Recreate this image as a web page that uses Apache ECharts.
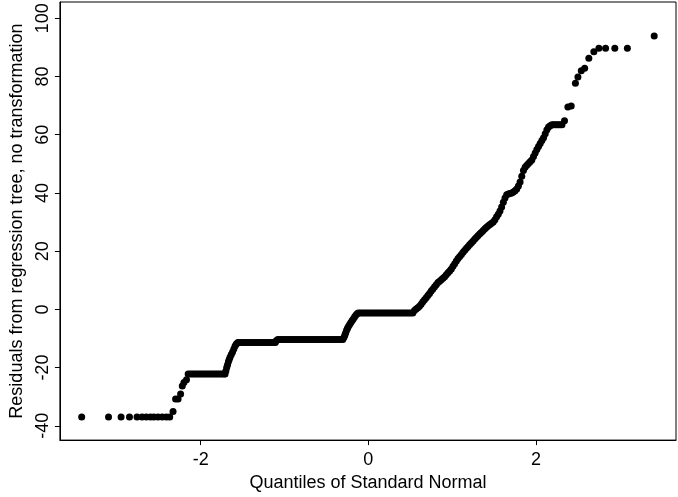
<!DOCTYPE html>
<html>
<head>
<meta charset="utf-8">
<title>QQ plot</title>
<script src="https://cdn.jsdelivr.net/npm/echarts@6/dist/echarts.min.js"></script>
<style>
  html, body { margin: 0; padding: 0; background: #fff; }
  #myChart { width: 678px; height: 497px; }
</style>
</head>
<body>
<div id="myChart"></div>
<script>
// axis ticks
var xTicks = [-2, 0, 2];
var yTicks = [-40, -20, 0, 20, 40, 60, 80, 100];

// points: [quantile of standard normal, residual]
var tailLow = [[-3.42,-37],[-3.10,-37],[-2.95,-37],[-2.85,-37],[-2.76,-37],[-2.70,-37],[-2.65,-37],
  [-2.60,-37],[-2.56,-37],[-2.51,-37],[-2.46,-37],[-2.41,-37],[-2.37,-37]];
var stepLow = [[-2.33,-35.1],[-2.30,-30.8],[-2.27,-30.8],[-2.24,-29.1],[-2.22,-26.3],[-2.20,-25.1],[-2.17,-24.2]];
var plateauNeg22 = [[-2.15,-22.2],[-2.125,-22.2],[-2.10,-22.2],[-2.075,-22.2],[-2.05,-22.2],[-2.025,-22.2],
  [-2.00,-22.2],[-1.975,-22.2],[-1.95,-22.2],[-1.925,-22.2],[-1.90,-22.2],[-1.875,-22.2],[-1.85,-22.2],
  [-1.825,-22.2],[-1.80,-22.2],[-1.775,-22.2],[-1.75,-22.2],[-1.725,-22.2],[-1.71,-22.2]];
var riseNeg11 = [[-1.70,-21.2],[-1.69,-20.0],[-1.68,-19.0],[-1.67,-18.0],[-1.66,-17.2],[-1.65,-16.4],
  [-1.635,-15.5],[-1.62,-14.6],[-1.605,-13.6],[-1.59,-12.6],[-1.575,-11.9],[-1.56,-11.5]];
var plateauNeg11 = [[-1.55,-11.4],[-1.525,-11.4],[-1.50,-11.4],[-1.475,-11.4],[-1.45,-11.4],[-1.425,-11.4],
  [-1.40,-11.4],[-1.375,-11.4],[-1.35,-11.4],[-1.325,-11.4],[-1.30,-11.4],[-1.275,-11.4],[-1.25,-11.4],
  [-1.225,-11.4],[-1.20,-11.4],[-1.175,-11.4],[-1.15,-11.4],[-1.125,-11.4],[-1.11,-11.4]];
var plateauNeg10 = [[-1.10,-10.8],[-1.08,-10.3],[-1.055,-10.3],[-1.03,-10.3],[-1.005,-10.3],[-0.98,-10.3],
  [-0.955,-10.3],[-0.93,-10.3],[-0.905,-10.3],[-0.88,-10.3],[-0.855,-10.3],[-0.83,-10.3],[-0.805,-10.3],
  [-0.78,-10.3],[-0.755,-10.3],[-0.73,-10.3],[-0.705,-10.3],[-0.68,-10.3],[-0.655,-10.3],[-0.63,-10.3],
  [-0.605,-10.3],[-0.58,-10.3],[-0.555,-10.3],[-0.53,-10.3],[-0.505,-10.3],[-0.48,-10.3],[-0.455,-10.3],
  [-0.43,-10.3],[-0.405,-10.3],[-0.38,-10.3],[-0.355,-10.3],[-0.33,-10.3],[-0.305,-10.3]];
var riseZero = [[-0.29,-9.6],[-0.28,-8.8],[-0.27,-8.0],[-0.26,-7.2],[-0.25,-6.6],[-0.24,-6.0],[-0.225,-5.3],
  [-0.21,-4.6],[-0.195,-3.9],[-0.18,-3.3],[-0.165,-2.6],[-0.15,-2.0],[-0.135,-1.5]];
var plateauZero = [[-0.12,-1.2],[-0.095,-1.2],[-0.07,-1.2],[-0.045,-1.2],[-0.02,-1.2],[0.005,-1.2],
  [0.03,-1.2],[0.055,-1.2],[0.08,-1.2],[0.105,-1.2],[0.13,-1.2],[0.155,-1.2],[0.18,-1.2],[0.205,-1.2],
  [0.23,-1.2],[0.255,-1.2],[0.28,-1.2],[0.305,-1.2],[0.33,-1.2],[0.355,-1.2],[0.38,-1.2],[0.405,-1.2],
  [0.43,-1.2],[0.455,-1.2],[0.48,-1.2],[0.505,-1.2],[0.53,-1.2]];
var riseMain = [[0.55,-0.4],[0.57,0.1],[0.59,0.6],[0.61,1.1],[0.63,1.8],[0.65,2.6],[0.67,3.3],[0.69,4.0],
  [0.71,4.8],[0.73,5.5],[0.75,6.3],[0.77,7.0],[0.79,7.8],[0.81,8.5],[0.83,9.2],[0.85,9.7],[0.87,10.2],
  [0.89,10.7],[0.91,11.2],[0.93,11.9],[0.95,12.6],[0.97,13.2],[0.99,13.9],[1.01,14.8],[1.03,15.7],
  [1.05,16.6],[1.07,17.5],[1.09,18.2],[1.11,18.9],[1.13,19.6],[1.15,20.3],[1.17,21.0],[1.19,21.6],
  [1.21,22.3],[1.23,22.9],[1.25,23.5],[1.27,24.2],[1.29,24.8],[1.31,25.4],[1.33,26.0],[1.35,26.5],
  [1.37,27.1],[1.39,27.7],[1.41,28.2],[1.43,28.7],[1.45,29.2],[1.47,29.6],[1.49,30.0],[1.51,30.8],
  [1.53,31.8],[1.55,32.7],[1.57,33.8],[1.59,35.2],[1.61,36.8],[1.63,38.3],[1.65,39.4],[1.67,39.6],
  [1.69,39.8],[1.71,40.0],[1.73,40.3],[1.75,40.8],[1.77,41.4],[1.79,42.4],[1.81,43.8],[1.83,45.7],
  [1.85,47.7],[1.87,48.8],[1.89,49.5],[1.91,50.1],[1.93,50.7],[1.95,51.3],[1.97,52.5],[1.99,53.7],
  [2.01,54.9],[2.03,56.0],[2.05,57.0],[2.07,58.0],[2.09,59.0],[2.11,60.3],[2.13,61.7],[2.15,62.7],
  [2.17,63.1]];
var plateau63 = [[2.19,63.4],[2.21,63.4],[2.23,63.4],[2.25,63.4],[2.27,63.4],[2.29,63.4],[2.31,63.4]];
var tailHigh = [[2.34,64.8],[2.38,69.5],[2.42,69.9],[2.47,77.7],[2.50,79.8],[2.54,82.0],[2.58,82.8],
  [2.63,86.3],[2.69,88.5],[2.75,89.7],[2.83,89.7],[2.94,89.7],[3.09,89.7],[3.41,93.9]];

var points = [].concat(tailLow, stepLow, plateauNeg22, riseNeg11, plateauNeg11, plateauNeg10,
  riseZero, plateauZero, riseMain, plateau63, tailHigh);

var font = "'Liberation Sans', Arial, Helvetica, sans-serif";

var myChart = echarts.init(document.getElementById("myChart"));
var option = {
  animation: false,
  grid: {
    left: 57,
    right: 2,
    top: 2,
    bottom: 56,
    show: true,
    borderColor: "#000",
    borderWidth: 1
  },
  xAxis: {
    type: "value",
    min: -3.68,
    max: 3.67,
    name: "Quantiles of Standard Normal",
    nameLocation: "middle",
    nameGap: 32,
    nameTextStyle: { color: "#000", fontSize: 18, fontFamily: font },
    axisLine: { show: true, onZero: false, lineStyle: { color: "#000", width: 1 } },
    axisTick: { show: true, length: 5, customValues: xTicks, lineStyle: { color: "#000" } },
    axisLabel: { customValues: xTicks, color: "#000", fontSize: 18, fontFamily: font, margin: 11 },
    splitLine: { show: false }
  },
  yAxis: {
    type: "value",
    min: -44.9,
    max: 105.6,
    name: "Residuals from regression tree, no transformation",
    nameLocation: "middle",
    nameRotate: 90,
    nameGap: 26,
    nameTextStyle: { color: "#000", fontSize: 18, fontFamily: font },
    axisLine: { show: true, onZero: false, lineStyle: { color: "#000", width: 1 } },
    axisTick: { show: true, length: 5, customValues: yTicks, lineStyle: { color: "#000" } },
    axisLabel: { customValues: yTicks, rotate: 90, color: "#000", fontSize: 18, fontFamily: font, margin: 8 },
    splitLine: { show: false }
  },
  series: [
    {
      type: "scatter",
      data: points,
      symbol: "circle",
      symbolSize: 7,
      itemStyle: { color: "#000", opacity: 1 }
    }
  ]
};
myChart.setOption(option);
</script>
</body>
</html>
